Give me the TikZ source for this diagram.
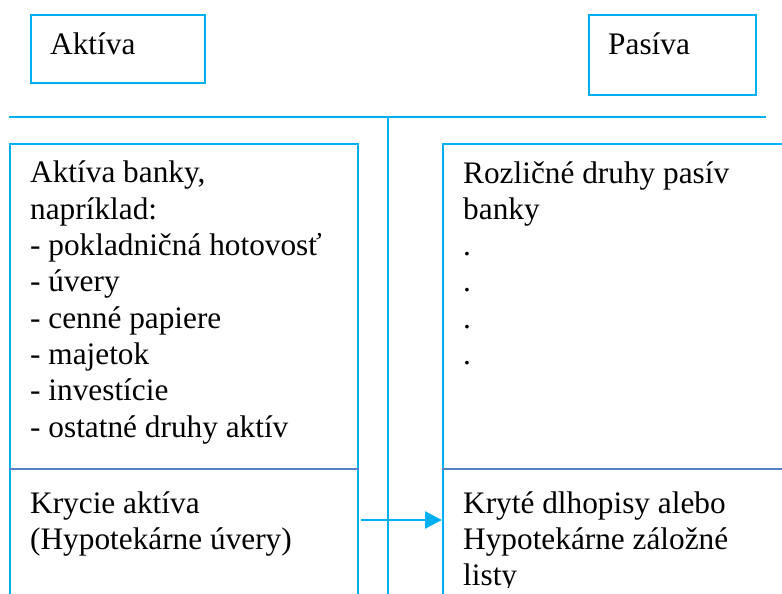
\documentclass[tikz,border=0pt]{standalone}
\usepackage{fontspec}
\setmainfont{Liberation Serif}
\usetikzlibrary{arrows.meta}
\definecolor{cyanline}{RGB}{0,176,240}
\definecolor{divline}{RGB}{84,130,196}
\begin{document}
\begin{tikzpicture}[x=1pt,y=-1pt,
  frame/.style={draw=cyanline,line width=2.3pt,inner sep=0pt,anchor=north west},
  rule/.style={draw=cyanline,line width=2.3pt},
  divider/.style={draw=divline,line width=1.7pt},
  link/.style={draw=cyanline,line width=2.3pt,-{Triangle[length=17pt,width=17pt]}},
  txt/.style={inner sep=0pt,anchor=base west,align=left,font=\fontsize{31.3}{36.3}\selectfont}]
\useasboundingbox (0,0) rectangle (782,594);
\clip (0,0) rectangle (782,594);
% header boxes
\node[frame,minimum width=174pt,minimum height=68pt] (hA) at (30,14) {};
\node[frame,minimum width=167pt,minimum height=80pt] (hP) at (588,14) {};
\node[txt] (tA) at (50,55) {Aktíva};
\node[txt] (tP) at (608,55) {Pasíva};
% T lines
\coordinate (hl) at (9,117);
\coordinate (hr) at (766,117);
\coordinate (vt) at (388,117);
\coordinate (vb) at (388,600);
\draw[rule] (hl) -- (hr);
\draw[rule] (vt) -- (vb);
% body boxes
\node[frame,minimum width=348pt,minimum height=500pt] (lbox) at (9,143) {};
\node[frame,minimum width=400pt,minimum height=500pt] (rbox) at (442,143) {};
\draw[divider] (lbox.west |- 0,469) -- (lbox.east |- 0,469);
\draw[divider] (rbox.west |- 0,469) -- (rbox.east |- 0,469);
% arrow
\coordinate (as) at (361,520);
\draw[link] (as) -- (as -| rbox.west);
% texts (anchor = baseline of the last line)
\begin{scope}
\clip (0,0) rectangle (782,587.5);
\node[txt] (lt) at (30,437) {Aktíva banky,\\napríklad:\\- pokladničná hotovosť\\- úvery\\- cenné papiere\\- majetok\\- investície\\- ostatné druhy aktív};
\node[txt] (rt) at (463,364.5) {Rozličné druhy pasív\\banky\\.\\.\\.\\.};
\node[txt] (lb) at (30,549.3) {Krycie aktíva\\(Hypotekárne úvery)};
\node[txt] (rb) at (463,585.6) {Kryté dlhopisy alebo\\Hypotekárne záložné\\listy};
\end{scope}
\end{tikzpicture}
\end{document}
